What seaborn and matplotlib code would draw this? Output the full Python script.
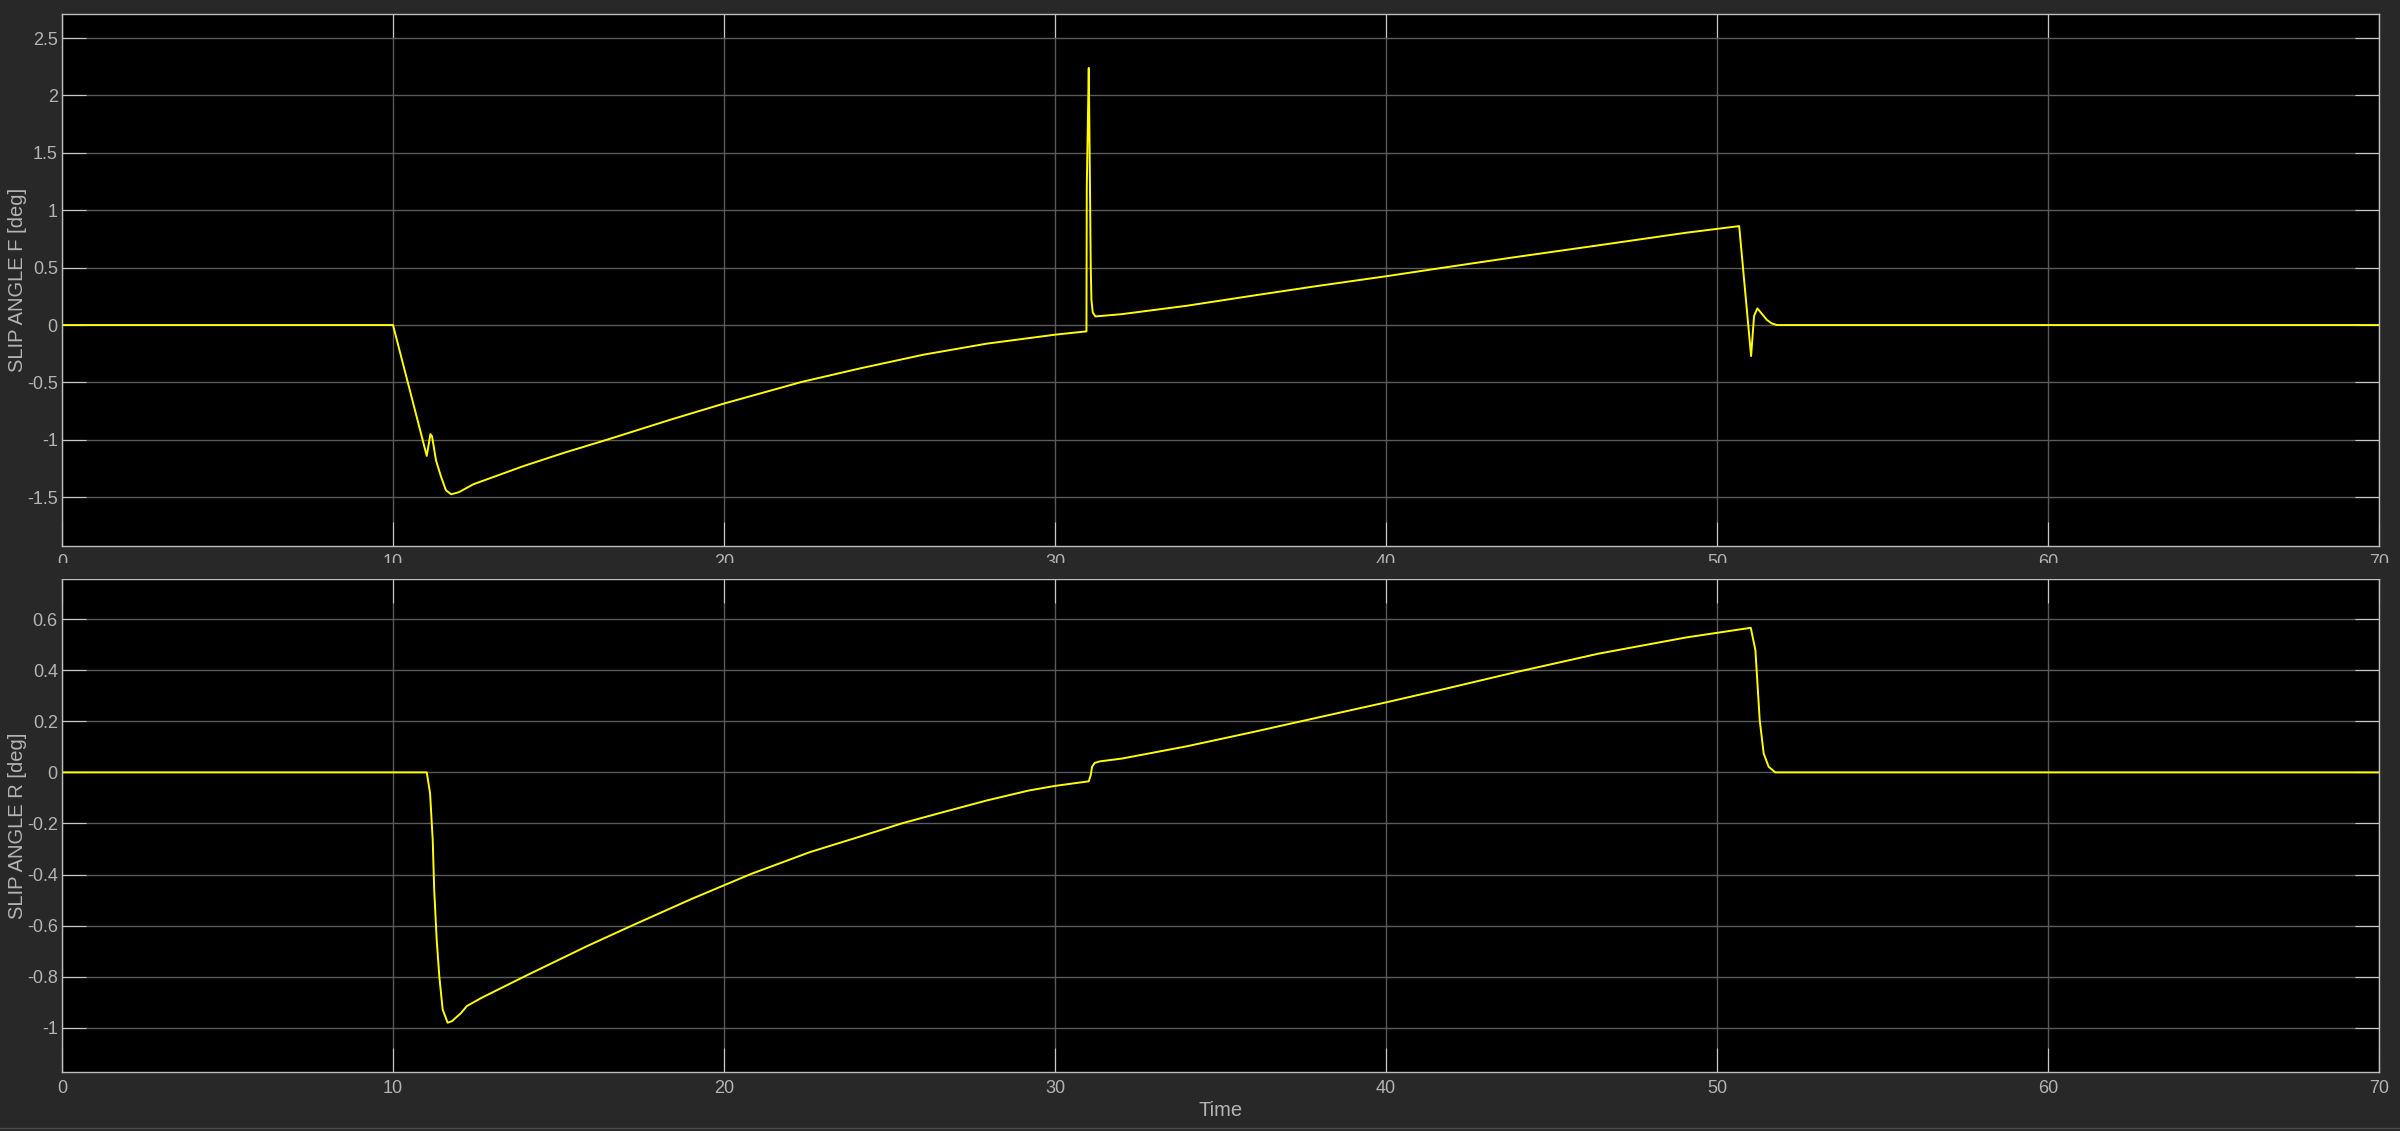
import matplotlib.pyplot as plt
import matplotlib.ticker as mticker
from matplotlib.patches import Rectangle
from matplotlib.lines import Line2D
import seaborn as sns

# front slip angle trace
t_front = [0, 10.0, 11.02, 11.13, 11.18, 11.30, 11.45, 11.60, 11.76, 12.0, 12.42,
           13.94, 15.20, 16.49, 18.40, 20.0, 22.34, 24.12, 26.03, 27.94, 30.0,
           30.95, 30.96, 31.02, 31.04, 31.06, 31.08, 31.10, 31.14, 31.22, 32.02,
           33.98, 35.95, 37.92, 40.0, 41.85, 43.81, 46.43, 49.06, 50.67, 51.03,
           51.12, 51.22, 51.35, 51.51, 51.65, 51.81, 70.0]
slip_front = [0, 0, -1.14, -0.95, -0.97, -1.18, -1.32, -1.44, -1.475, -1.455, -1.388,
              -1.229, -1.11, -0.997, -0.823, -0.684, -0.496, -0.377, -0.258, -0.162, -0.084,
              -0.055, 1.2, 2.24, 1.7, 1.1, 0.5, 0.22, 0.11, 0.075, 0.095,
              0.168, 0.255, 0.34, 0.425, 0.505, 0.588, 0.695, 0.804, 0.862, -0.27,
              0.08, 0.145, 0.10, 0.044, 0.015, 0.0, 0.0]

# rear slip angle trace
t_rear = [0, 11.02, 11.12, 11.20, 11.245, 11.32, 11.40, 11.50, 11.65, 11.78, 12.05,
          12.23, 12.67, 13.94, 15.85, 17.25, 19.03, 20.81, 22.60, 24.12, 25.39,
          26.67, 27.94, 29.21, 30.0, 31.02, 31.08, 31.12, 31.20, 31.35, 32.02,
          33.98, 35.95, 37.92, 40.0, 41.85, 43.81, 46.43, 49.06, 51.02, 51.16,
          51.29, 51.41, 51.56, 51.76, 70.0]
slip_rear = [0, 0, -0.082, -0.265, -0.46, -0.656, -0.80, -0.928, -0.98, -0.974, -0.943,
             -0.915, -0.883, -0.801, -0.681, -0.598, -0.495, -0.398, -0.312, -0.251, -0.199,
             -0.154, -0.110, -0.071, -0.053, -0.035, -0.01, 0.022, 0.037, 0.043, 0.054,
             0.102, 0.157, 0.214, 0.274, 0.329, 0.389, 0.465, 0.528, 0.566, 0.479,
             0.205, 0.074, 0.022, 0.0, 0.0]

x_ticks = [0, 10, 20, 30, 40, 50, 60, 70]
y_ticks_front = [-1.5, -1, -0.5, 0, 0.5, 1, 1.5, 2, 2.5]
y_ticks_rear = [-1, -0.8, -0.6, -0.4, -0.2, 0, 0.2, 0.4, 0.6]

sns.set_theme(style="dark")
plt.rcParams['font.family'] = ['Liberation Sans', 'DejaVu Sans']
plt.rcParams['axes.unicode_minus'] = False

bg = '#282828'
txt = '#b4b4b4'

fig = plt.figure(figsize=(24, 11.31), dpi=100, facecolor=bg)
ax1 = fig.add_axes([62 / 2400, 585 / 1131, 2317 / 2400, 532 / 1131])
ax2 = fig.add_axes([62 / 2400, 59 / 1131, 2317 / 2400, 493 / 1131])


def style_axes(ax, yticks, ylim, ylabel):
    ax.set_facecolor('black')
    ax.set_xlim(0, 70)
    ax.set_ylim(*ylim)
    ax.set_xticks(x_ticks)
    ax.set_yticks(yticks)
    ax.yaxis.set_major_formatter(mticker.FormatStrFormatter('%g'))
    ax.grid(True, color='#5a5a5a', lw=1.0)
    ax.set_axisbelow(True)
    for sp in ax.spines.values():
        sp.set_visible(True)
        sp.set_color('#bdbdbd')
        sp.set_linewidth(1.0)
    ax.tick_params(which='major', direction='in', length=17, width=0.8,
                   color='#c8c8c8', labelcolor=txt, labelsize=13,
                   top=True, right=True, bottom=True, left=True)
    ax.tick_params(axis='x', pad=6)
    ax.tick_params(axis='y', pad=3)
    ax.set_ylabel(ylabel, fontsize=14.5, color=txt)
    ax.yaxis.label.set_va('center')
    ax.yaxis.set_label_coords(-0.0192, 0.5)


sns.lineplot(x=t_front, y=slip_front, ax=ax1, color='#ffff00', lw=1.4, estimator=None)
sns.lineplot(x=t_rear, y=slip_rear, ax=ax2, color='#ffff00', lw=1.4, estimator=None)

style_axes(ax1, y_ticks_front, (-1.925, 2.71), 'SLIP ANGLE F [deg]')
style_axes(ax2, y_ticks_rear, (-1.173, 0.757), 'SLIP ANGLE R [deg]')

ax2.set_xlabel('Time', fontsize=14.5, color=txt)
ax2.xaxis.label.set_va('center')
ax2.xaxis.set_label_coords(0.5, -0.0771)

# lower panel hides the bottom half of the upper panel's tick labels
fig.add_artist(Rectangle((0, 1 - 578.5 / 1131), 1, 15.5 / 1131, transform=fig.transFigure,
                         facecolor=bg, edgecolor='none', zorder=5))
fig.add_artist(Line2D([0, 1], [3 / 1131, 3 / 1131], transform=fig.transFigure,
                      color='#4a4a4a', lw=1))

fig.savefig('out.png', dpi=100, facecolor=bg)
